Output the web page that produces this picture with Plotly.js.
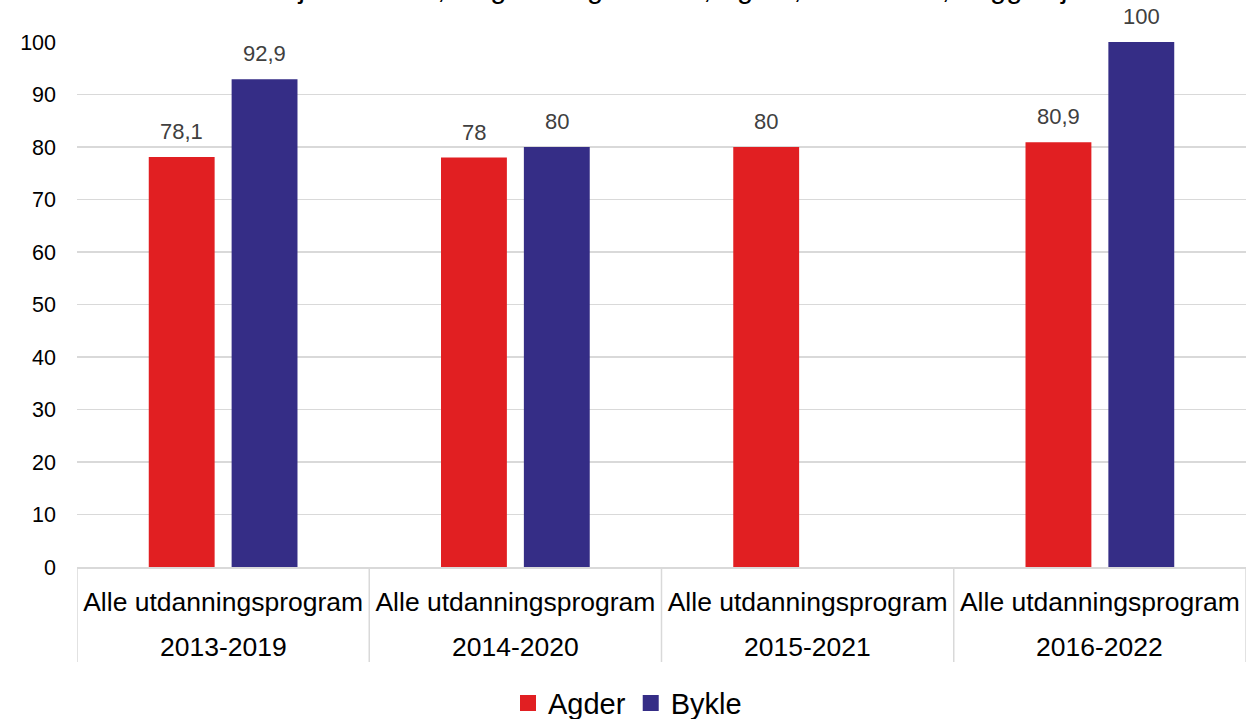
<!DOCTYPE html>
<html>
<head>
<meta charset="utf-8">
<script src="https://cdn.plot.ly/plotly-3.0.1.min.js"></script>
<style>html,body{margin:0;padding:0;background:#fff;}#chart{width:1255px;height:719px;}</style>
</head>
<body>
<div id="chart"></div>
<script>
const periods = ["2013-2019", "2014-2020", "2015-2021", "2016-2022"];
const programs = ["Alle utdanningsprogram", "Alle utdanningsprogram", "Alle utdanningsprogram", "Alle utdanningsprogram"];
const agder = [78.1, 78, 80, 80.9];
const bykle = [92.9, 80, null, 100];
const seriesNames = ["Agder", "Bykle"];
const seriesColors = ["#E11F22", "#352D86"];
const titleText = "Gjennomført, Ungdom og voksne, Agder, Kommune, begge kjønn";

const W = 1255, H = 719;
const M = {l: 77, r: 9, t: 42, b: 152};
const plotH = H - M.t - M.b;
const bargap = 0.433, bargroupgap = 0.205;
const FONT = "Liberation Sans, Arial, sans-serif";

const series = [agder, bykle];
const traces = series.map((vals, k) => ({
  type: "bar", name: seriesNames[k], x: periods, y: vals,
  marker: {color: seriesColors[k]}, cliponaxis: false,
  legendgroup: seriesNames[k], showlegend: false
}));
// legend entries with larger square swatches
seriesNames.forEach((n, k) => {
  traces.push({
    type: "scatter", mode: "markers", name: n, x: [null], y: [null],
    legendgroup: n, showlegend: true,
    marker: {symbol: "square", size: 16, color: seriesColors[k]}
  });
});

// data labels (placed above each bar through the axis scales)
const slot = (1 - bargap) / series.length;
const annotations = [];
series.forEach((vals, k) => {
  vals.forEach((v, i) => {
    if (v === null) return;
    annotations.push({
      xref: "x", yref: "y", x: i - (1 - bargap) / 2 + slot * (k + 0.5), y: v,
      text: String(v).replace(".", ","), showarrow: false,
      xanchor: "center", yanchor: "bottom", yshift: 11,
      font: {family: FONT, size: 22, color: "#404040"}
    });
  });
});
// second row of category labels (periods)
periods.forEach((p, i) => {
  annotations.push({
    xref: "x", yref: "paper", x: i, y: 0, yshift: -80, yanchor: "middle",
    text: p, showarrow: false, font: {family: FONT, size: 26.5, color: "#000"}
  });
});
// title (clipped at the top like the reference)
annotations.push({
  text: titleText, xref: "paper", yref: "paper", x: 0.53, y: 1,
  xanchor: "center", yanchor: "bottom", yshift: 36, showarrow: false,
  font: {family: FONT, size: 29, color: "#000"}
});

// group dividers
const shapes = [];
for (let i = 0; i <= periods.length; i++) {
  shapes.push({
    type: "line", xref: "x", yref: "paper", x0: i - 0.5, x1: i - 0.5,
    y0: 0, y1: -95 / plotH, line: {color: "#d9d9d9", width: 1.5}
  });
}

const layout = {
  width: W, height: H, margin: M,
  paper_bgcolor: "#fff", plot_bgcolor: "#fff",
  barmode: "group", bargap: bargap, bargroupgap: bargroupgap,
  font: {family: FONT, color: "#000"},
  xaxis: {
    type: "category", range: [-0.5, periods.length - 0.5],
    tickvals: periods, ticktext: programs,
    tickfont: {size: 26.5, color: "#000"},
    showline: true, linecolor: "#d9d9d9", linewidth: 1.5,
    ticks: "", ticklabelstandoff: 11, showgrid: false
  },
  yaxis: {
    range: [0, 100], dtick: 10,
    tickfont: {size: 21.5, color: "#000"},
    showgrid: true, gridcolor: "#d9d9d9", gridwidth: 1.5,
    zeroline: false, showline: false, ticks: "",
    ticklabelstandoff: 20
  },
  showlegend: true,
  legend: {
    orientation: "h", x: 0.5, xanchor: "center",
    xref: "container", yref: "container", y: 0.022, yanchor: "middle",
    font: {size: 29, color: "#000"}, traceorder: "normal", itemwidth: 30
  },
  annotations: annotations,
  shapes: shapes
};

Plotly.newPlot("chart", traces, layout, {displayModeBar: false, staticPlot: true});
</script>
</body>
</html>
